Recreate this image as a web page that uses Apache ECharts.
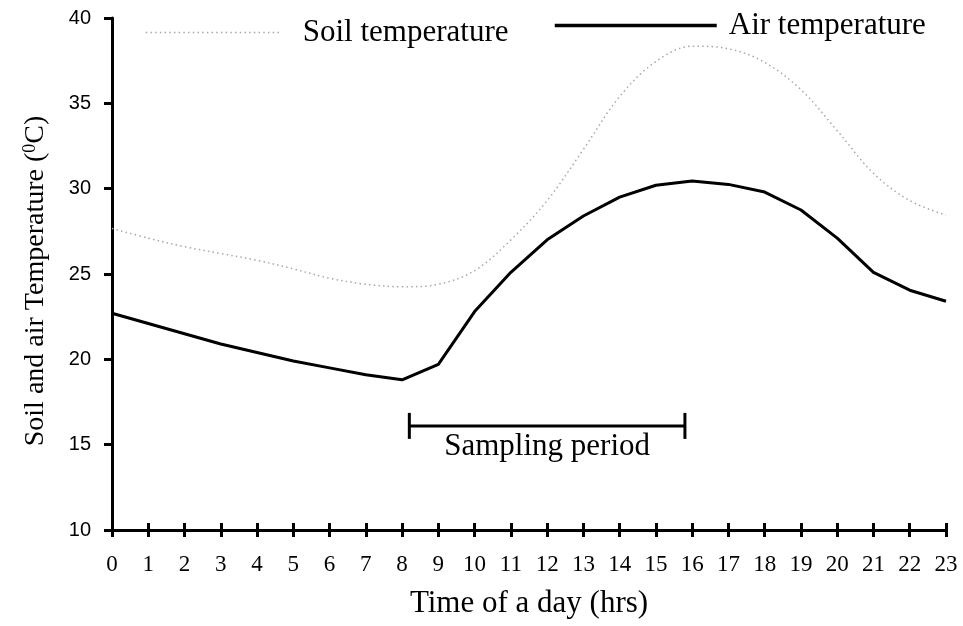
<!DOCTYPE html>
<html>
<head>
<meta charset="utf-8">
<script src="https://cdn.jsdelivr.net/npm/echarts@6/dist/echarts.min.js"></script>
<style>
  html, body { margin: 0; padding: 0; background: #fff; }
  #chart { width: 963px; height: 626px; }
</style>
</head>
<body>
<div id="chart"></div>
<script>
// Hourly readings over one day
const hours = [0, 1, 2, 3, 4, 5, 6, 7, 8, 9, 10, 11, 12, 13, 14, 15, 16, 17, 18, 19, 20, 21, 22, 23];
const soilTemp = [27.67, 27.1, 26.6, 26.2, 25.8, 25.3, 24.75, 24.4, 24.25, 24.4, 25.2, 27.0, 29.3, 32.3, 35.4, 37.45, 38.35, 38.2, 37.4, 35.8, 33.4, 30.9, 29.3, 28.45];
const airTemp = [22.7, 22.1, 21.5, 20.9, 20.4, 19.9, 19.5, 19.1, 18.8, 19.7, 22.8, 25.1, 27.0, 28.4, 29.5, 30.2, 30.45, 30.25, 29.8, 28.75, 27.1, 25.1, 24.05, 23.4];
const yTicks = [10, 15, 20, 25, 30, 35, 40];
// Sampling window: start hour, end hour, drawn at this temperature level
const sampling = [[8.2, 15.8, 16.1]];

const serif = '"Liberation Serif", "Times New Roman", serif';
const sans = '"Liberation Sans", Arial, sans-serif';

const chart = echarts.init(document.getElementById('chart'));

const gridTop = 18, gridBottom = 96, gridHeight = 626 - gridTop - gridBottom;

chart.setOption({
  animation: false,
  backgroundColor: '#fff',
  grid: { left: 112, right: 17, top: gridTop, bottom: gridBottom, containLabel: false },
  legend: [
    {
      data: ['Soil temperature'],
      left: 145, top: 17, padding: 0,
      itemWidth: 135, itemHeight: 30,
      itemStyle: { opacity: 0 },
      lineStyle: { color: '#a8a8a8', width: 1.5, type: [1.5, 3.2] },
      textStyle: { fontFamily: serif, fontSize: 31, color: '#000', padding: [0, 0, 0, 17] }
    },
    {
      data: ['Air temperature'],
      left: 553, top: 10, padding: 0,
      itemWidth: 162, itemHeight: 30,
      itemStyle: { opacity: 0 },
      lineStyle: { color: '#000', width: 3.5, type: 'solid' },
      textStyle: { fontFamily: serif, fontSize: 31, color: '#000', padding: [0, 0, 0, 7] }
    }
  ],
  xAxis: [
    {
      type: 'value', min: 0, max: 23, interval: 1,
      name: 'Time of a day (hrs)', nameLocation: 'middle', nameGap: 58,
      nameTextStyle: { fontFamily: serif, fontSize: 31, color: '#000' },
      axisLine: { show: true, onZero: false, lineStyle: { color: '#000', width: 3 } },
      axisTick: { show: true, inside: false, length: 7, lineStyle: { color: '#000', width: 3 } },
      axisLabel: { fontFamily: serif, fontSize: 23, color: '#000', margin: 23 },
      splitLine: { show: false }
    },
    {
      // upper half of the crossing x ticks
      type: 'value', min: 0, max: 23, interval: 1,
      position: 'top', offset: -gridHeight,
      axisLine: { show: false },
      axisTick: { show: true, inside: false, length: 7, lineStyle: { color: '#000', width: 3 } },
      axisLabel: { show: false },
      splitLine: { show: false }
    }
  ],
  yAxis: {
    type: 'value', min: yTicks[0], max: yTicks[yTicks.length - 1], interval: 5,
    name: '{t|Soil and air Temperature (}{s|0}{t|C)}',
    nameLocation: 'middle', nameGap: 61,
    nameTextStyle: {
      padding: [0, 14, 0, 0],
      rich: {
        t: { fontFamily: serif, fontSize: 28, color: '#000' },
        s: { fontFamily: serif, fontSize: 18, color: '#000', padding: [0, 0, 12, 0] }
      }
    },
    axisLine: { show: true, lineStyle: { color: '#000', width: 3 } },
    axisTick: { show: true, inside: false, length: 8, lineStyle: { color: '#000', width: 3 } },
    axisLabel: { fontFamily: sans, fontSize: 20, color: '#000', margin: 21 },
    splitLine: { show: false }
  },
  series: [
    {
      name: 'Soil temperature', type: 'line',
      data: hours.map((h, i) => [h, soilTemp[i]]),
      smooth: 0.35, symbol: 'none',
      lineStyle: { color: '#a8a8a8', width: 1.5, type: [1.5, 3.2] },
      itemStyle: { color: '#a8a8a8' }
    },
    {
      name: 'Air temperature', type: 'line',
      data: hours.map((h, i) => [h, airTemp[i]]),
      symbol: 'none',
      lineStyle: { color: '#000', width: 3, join: 'round' },
      itemStyle: { color: '#000' }
    },
    {
      name: 'Sampling period', type: 'custom',
      data: sampling,
      renderItem: function (params, api) {
        const a = api.coord([api.value(0), api.value(2)]);
        const b = api.coord([api.value(1), api.value(2)]);
        const cap = 13;
        const st = { stroke: '#000', lineWidth: 3 };
        return {
          type: 'group',
          children: [
            { type: 'line', shape: { x1: a[0], y1: a[1], x2: b[0], y2: b[1] }, style: st },
            { type: 'line', shape: { x1: a[0], y1: a[1] - cap, x2: a[0], y2: a[1] + cap }, style: st },
            { type: 'line', shape: { x1: b[0], y1: b[1] - cap, x2: b[0], y2: b[1] + cap }, style: st },
            {
              type: 'text',
              style: {
                text: 'Sampling period', x: (a[0] + b[0]) / 2, y: a[1] + 5,
                align: 'center', verticalAlign: 'top',
                font: '31px ' + serif, fill: '#000'
              }
            }
          ]
        };
      }
    }
  ]
});
</script>
</body>
</html>
